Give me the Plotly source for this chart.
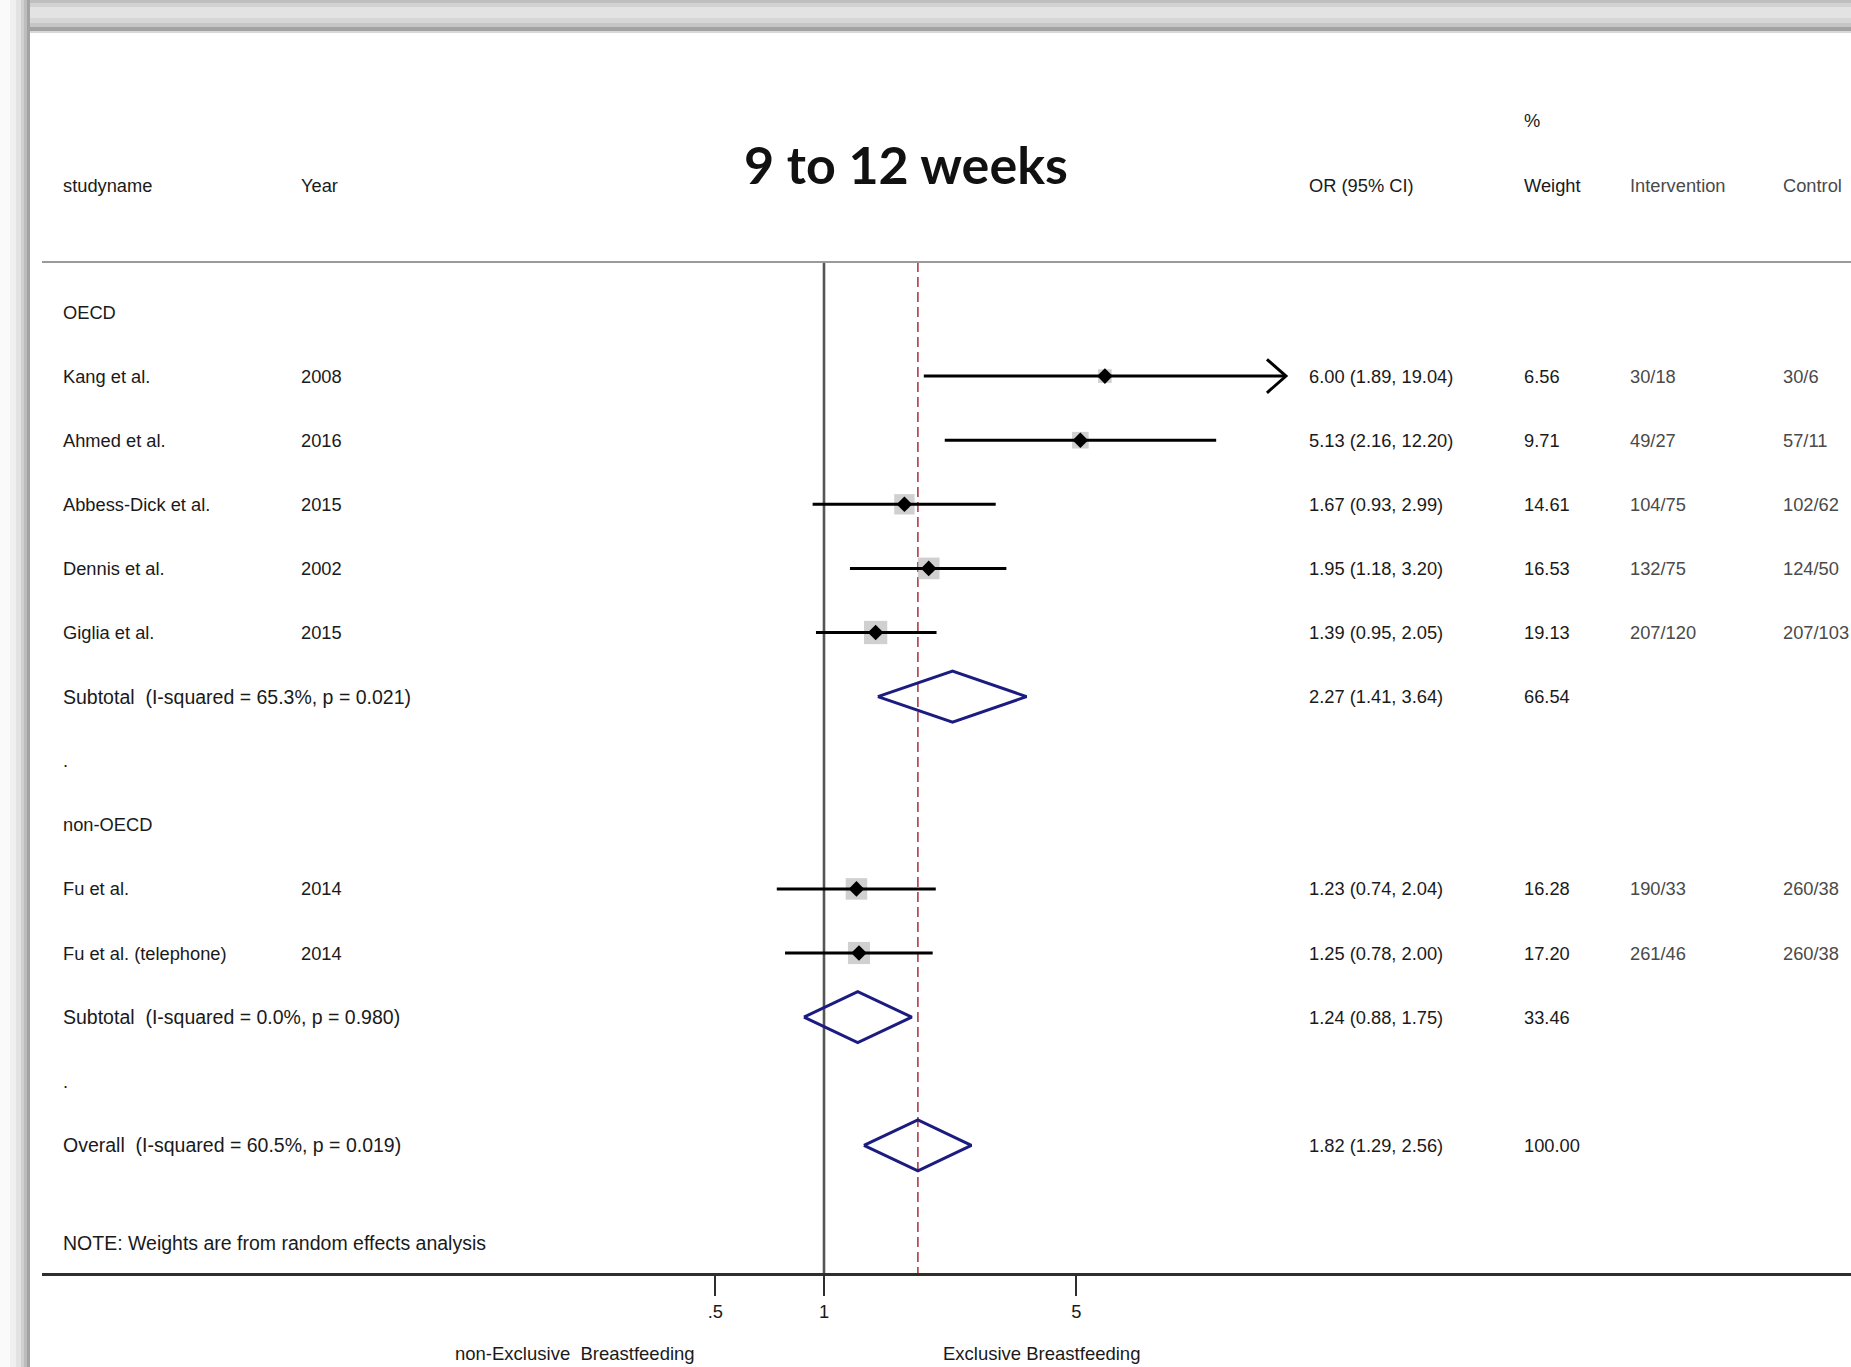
import plotly.graph_objects as go

# ---------------- data ----------------
study_names = ["Kang et al.", "Ahmed et al.", "Abbess-Dick et al.", "Dennis et al.",
               "Giglia et al.", "Fu et al.", "Fu et al. (telephone)"]
study_years = ["2008", "2016", "2015", "2002", "2015", "2014", "2014"]
study_group = ["OECD", "OECD", "OECD", "OECD", "OECD", "non-OECD", "non-OECD"]
study_or = [6.00, 5.13, 1.67, 1.95, 1.39, 1.23, 1.25]
study_lo = [1.89, 2.16, 0.93, 1.18, 0.95, 0.74, 0.78]
study_hi = [19.04, 12.20, 2.99, 3.20, 2.05, 2.04, 2.00]
study_weight = [6.56, 9.71, 14.61, 16.53, 19.13, 16.28, 17.20]
study_intervention = ["30/18", "49/27", "104/75", "132/75", "207/120", "190/33", "261/46"]
study_control = ["30/6", "57/11", "102/62", "124/50", "207/103", "260/38", "260/38"]

groups = ["OECD", "non-OECD"]
subtotal_labels = ["Subtotal\u00a0\u00a0(I-squared = 65.3%, p = 0.021)",
                   "Subtotal\u00a0\u00a0(I-squared = 0.0%, p = 0.980)"]
subtotal_or = [2.27, 1.24]
subtotal_lo = [1.41, 0.88]
subtotal_hi = [3.64, 1.75]
subtotal_weight = [66.54, 33.46]

overall_label = "Overall\u00a0\u00a0(I-squared = 60.5%, p = 0.019)"
overall_or = 1.82
overall_lo = 1.29
overall_hi = 2.56
overall_weight = 100.00

header_labels = ["studyname", "Year", "OR (95% CI)", "Weight", "Intervention", "Control"]
title_text = "9 to 12 weeks"
note_text = "NOTE: Weights are from random effects analysis"
xtick_vals = [0.5, 1, 5]
xtick_text = [".5", "1", "5"]
favours_left = "non-Exclusive\u00a0\u00a0Breastfeeding"
favours_right = "Exclusive Breastfeeding"
ci_clip = 15.0  # CIs above this get an arrow head

# ---------------- layout constants ----------------
W, H = 1851, 1367
ROW0_PX, ROW_H = 312.0, 64.1
AXIS_PX = 1273.0
HEADLINE_PX = 262.0
X_LEFT_PX = 42.0
X_ONE_PX = 824.0
PX_PER_DEC = 361.0
COL_NAME, COL_YEAR, COL_OR, COL_W, COL_INT, COL_CTL = 61, 299, 1307, 1522, 1628, 1781
FONT = "Liberation Sans, Arial, sans-serif"
FS = 18.3       # short labels / numbers
FS_WIDE = 19.5  # long labels with wide spacing
TXT = "#1a1a1a"
TXT_LIGHT = "#4a4a4a"


def row_of(px):
    return (px - ROW0_PX) / ROW_H


y_range = [row_of(AXIS_PX), row_of(0)]
x_range = [-(X_ONE_PX - X_LEFT_PX) / PX_PER_DEC, (W - X_ONE_PX) / PX_PER_DEC]

# ---------------- row assignment ----------------
r = 0
group_rows, study_rows, subtotal_rows, dot_rows = [], [None] * len(study_names), [], []
for g in groups:
    group_rows.append(r)
    r += 1
    for i, sg in enumerate(study_group):
        if sg == g:
            study_rows[i] = r
            r += 1
    subtotal_rows.append(r)
    r += 1
    dot_rows.append(r)
    r += 1
overall_row = r
note_row = row_of(1243)

fig = go.Figure()

# reference lines
fig.add_trace(go.Scatter(x=[1, 1], y=[row_of(HEADLINE_PX), y_range[0]], mode="lines",
                         line=dict(color="#555555", width=2.6), hoverinfo="skip", showlegend=False))
fig.add_trace(go.Scatter(x=[overall_or, overall_or], y=[row_of(HEADLINE_PX), y_range[0]], mode="lines",
                         line=dict(color="#b03a48", width=1.6, dash="10px,5px"),
                         hoverinfo="skip", showlegend=False))

# weight squares
k = 23.3 / (19.13 ** 0.5)
fig.add_trace(go.Scatter(x=study_or, y=study_rows, mode="markers",
                         marker=dict(symbol="square", size=[k * w ** 0.5 for w in study_weight],
                                     color="#bcbcbc", line=dict(width=0)),
                         hoverinfo="skip", showlegend=False))

# CI lines
for i in range(len(study_names)):
    fig.add_trace(go.Scatter(x=[study_lo[i], study_hi[i]], y=[study_rows[i]] * 2, mode="lines",
                             line=dict(color="black", width=3), hoverinfo="skip", showlegend=False))
    if study_hi[i] > ci_clip:
        back = 10 ** (-19.0 / PX_PER_DEC)
        half = 16.7 / ROW_H
        fig.add_trace(go.Scatter(x=[study_hi[i] * back, study_hi[i], study_hi[i] * back],
                                 y=[study_rows[i] - half, study_rows[i], study_rows[i] + half],
                                 mode="lines", line=dict(color="black", width=3),
                                 hoverinfo="skip", showlegend=False))

# point estimates
fig.add_trace(go.Scatter(x=study_or, y=study_rows, mode="markers",
                         marker=dict(symbol="diamond", size=12, color="black", line=dict(width=0)),
                         hoverinfo="skip", showlegend=False))

# pooled diamonds
DH = 25.5 / ROW_H
for o, lo, hi, rr in list(zip(subtotal_or, subtotal_lo, subtotal_hi, subtotal_rows)) + \
        [(overall_or, overall_lo, overall_hi, overall_row)]:
    fig.add_trace(go.Scatter(x=[lo, o, hi, o, lo], y=[rr, rr - DH, rr, rr + DH, rr], mode="lines",
                             line=dict(color="#1c1c80", width=3), hoverinfo="skip", showlegend=False))


def add_text(x_px, row, text, color=TXT, size=FS, anchor="left", family=FONT, yref="y"):
    fig.add_annotation(x=x_px / W, xref="paper", y=row, yref=yref, text=text, showarrow=False,
                       xanchor=anchor, yanchor="middle", font=dict(family=family, size=size, color=color))


# headers
hdr_row = row_of(185)
for col, lab in zip([COL_NAME, COL_YEAR, COL_OR, COL_W, COL_INT, COL_CTL], header_labels):
    add_text(col, hdr_row, lab, color=TXT_LIGHT if lab in ("Intervention", "Control") else TXT)
add_text(COL_W, row_of(120), "%")
add_text(906, row_of(164), "<b>" + title_text + "</b>", color="#111111", size=52, anchor="center",
         family="Lato, Open Sans, sans-serif")

# group labels, dots
for g, gr in zip(groups, group_rows):
    add_text(COL_NAME, gr, g)
for dr in dot_rows:
    add_text(COL_NAME, dr, ".")

# studies
for i in range(len(study_names)):
    rr = study_rows[i]
    add_text(COL_NAME, rr, study_names[i])
    add_text(COL_YEAR, rr, study_years[i])
    add_text(COL_OR, rr, f"{study_or[i]:.2f} ({study_lo[i]:.2f}, {study_hi[i]:.2f})")
    add_text(COL_W, rr, f"{study_weight[i]:.2f}")
    add_text(COL_INT, rr, study_intervention[i], color=TXT_LIGHT)
    add_text(COL_CTL, rr, study_control[i], color=TXT_LIGHT)

# subtotals / overall
for lab, o, lo, hi, w, rr in zip(subtotal_labels, subtotal_or, subtotal_lo, subtotal_hi,
                                 subtotal_weight, subtotal_rows):
    add_text(COL_NAME, rr, lab, size=FS_WIDE)
    add_text(COL_OR, rr, f"{o:.2f} ({lo:.2f}, {hi:.2f})")
    add_text(COL_W, rr, f"{w:.2f}")
add_text(COL_NAME, overall_row, overall_label, size=FS_WIDE)
add_text(COL_OR, overall_row, f"{overall_or:.2f} ({overall_lo:.2f}, {overall_hi:.2f})")
add_text(COL_W, overall_row, f"{overall_weight:.2f}")
add_text(COL_NAME, note_row, note_text, size=FS_WIDE)

# favours labels (below the axis, in paper coordinates)
add_text(575, 1 - 1353 / H, favours_left, anchor="center", size=18.5, yref="paper")
add_text(1041, 1 - 1353 / H, favours_right, anchor="center", size=18.5, yref="paper")

# ---------------- shapes: header line + window chrome ----------------
shapes = [dict(type="line", xref="paper", yref="y", x0=X_LEFT_PX / W, x1=1,
               y0=row_of(HEADLINE_PX), y1=row_of(HEADLINE_PX), line=dict(color="#9a9a9a", width=2))]

top_strips = [(0, 3, "#bfbfbf"), (3, 7, "#d2d2d2"), (7, 18, "#e3e3e3"), (18, 23, "#d6d6d6"),
              (23, 27, "#c6c6c6"), (27, 31, "#a2a2a2"), (31, 33, "#d8d8d8")]
for y0, y1, c in top_strips:
    shapes.append(dict(type="rect", xref="paper", yref="paper", x0=0, x1=1,
                       y0=1 - y1 / H, y1=1 - y0 / H, fillcolor=c, line=dict(width=0), layer="above"))
left_strips = [(0, 10, "#fafafa"), (10, 16, "#f0f0f0"), (16, 21, "#e2e2e2"), (21, 24, "#d0d0d0"),
               (24, 27, "#bdbdbd"), (27, 30, "#a3a3a3")]
for x0, x1, c in left_strips:
    shapes.append(dict(type="rect", xref="paper", yref="paper", x0=x0 / W, x1=x1 / W,
                       y0=0, y1=1, fillcolor=c, line=dict(width=0), layer="above"))

fig.update_layout(
    width=W, height=H, margin=dict(l=0, r=0, t=0, b=0),
    paper_bgcolor="white", plot_bgcolor="white", template="none", showlegend=False,
    shapes=shapes,
    xaxis=dict(type="log", range=x_range, domain=[X_LEFT_PX / W, 1], showgrid=False, zeroline=False,
               showline=True, linecolor="#2e2e2e", linewidth=2.5, ticks="outside", ticklen=20,
               tickwidth=2, tickcolor="#2e2e2e", tickvals=xtick_vals, ticktext=xtick_text,
               tickfont=dict(family=FONT, size=FS, color=TXT), automargin=False, fixedrange=True),
    yaxis=dict(range=y_range, domain=[1 - AXIS_PX / H, 1], visible=False, showgrid=False,
               zeroline=False, automargin=False, fixedrange=True),
)

fig.write_html("out.html", config={"displayModeBar": False},
               post_script="document.body.style.margin='0';")
